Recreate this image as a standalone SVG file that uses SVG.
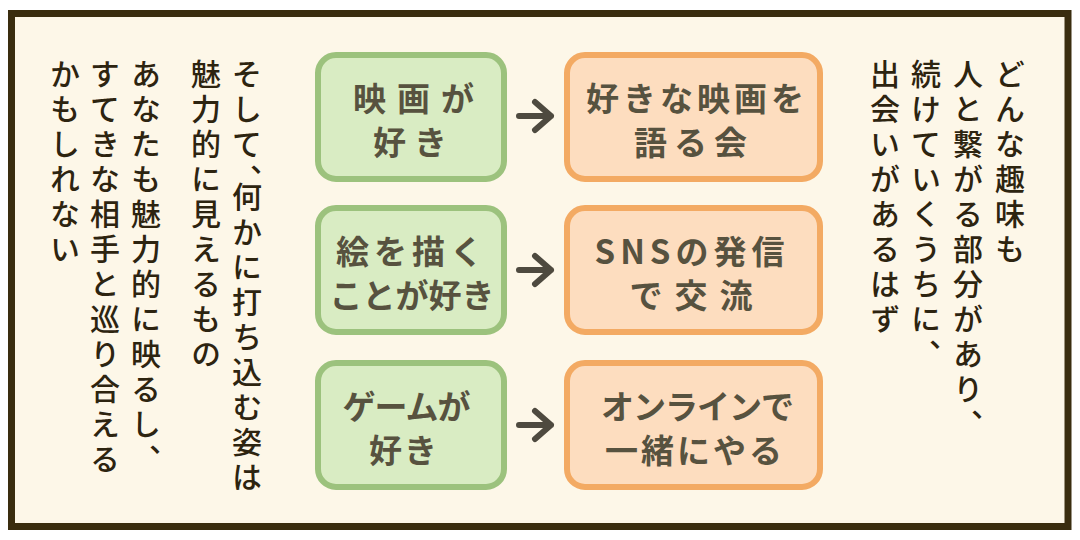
<svg xmlns="http://www.w3.org/2000/svg" width="1080" height="540" viewBox="0 0 1080 540">
<style>
.vt{font-family:"Noto Sans CJK JP","Noto Sans CJK SC",sans-serif;font-size:30px;font-weight:500;fill:#2d2410;writing-mode:vertical-rl;letter-spacing:5px}
.bt{font-family:"Noto Sans CJK JP","Noto Sans CJK SC",sans-serif;font-size:33px;font-weight:700;fill:#57523f;text-anchor:middle;dominant-baseline:central}
.g{fill:#d9ecc3;stroke:#9cc27d;stroke-width:6}
.o{fill:#fdddbf;stroke:#f3aa63;stroke-width:6}
.arr{fill:none;stroke:#4e4a3f;stroke-width:6;stroke-linecap:round;stroke-linejoin:round}
</style>
<rect x="0" y="0" width="1080" height="540" fill="#ffffff"/>
<rect x="11.5" y="13.5" width="1056.5" height="513" fill="#fdf7e8" stroke="#3a2d0f" stroke-width="7"/>

<g id="text-left">
<text class="vt" x="247" y="59">そして、<tspan dy="-17">何かに打ち込む姿は</tspan></text>
<text class="vt" x="206" y="59">魅力的に見えるもの</text>
<text class="vt" x="146" y="59">あなたも魅力的に映るし、</text>
<text class="vt" x="105" y="59">すてきな相手と巡り合える</text>
<text class="vt" x="65" y="59">かもしれない</text>
</g>

<g id="text-right">
<text class="vt" x="1010" y="59">どんな趣味も</text>
<text class="vt" x="968" y="59">人と繋がる部分があり、</text>
<text class="vt" x="926" y="59">続けていくうちに、</text>
<text class="vt" x="885" y="59">出会いがあるはず</text>
</g>

<g id="node-movie">
<rect class="g" x="318" y="55" width="186" height="124" rx="18"/>
<text class="bt" x="419" y="97" font-size="36" letter-spacing="11">映画が</text>
<text class="bt" x="414" y="141" font-size="35" letter-spacing="8">好き</text>
</g>
<g id="node-movie-talk">
<rect class="o" x="567" y="55" width="253" height="124" rx="18"/>
<text class="bt" x="697" y="97" letter-spacing="4">好きな映画を</text>
<text class="bt" x="694" y="141" letter-spacing="7">語る会</text>
</g>
<g id="node-draw">
<rect class="g" x="318" y="208" width="186" height="124" rx="18"/>
<text class="bt" x="412" y="250" letter-spacing="5">絵を描く</text>
<text class="bt" x="412" y="294">ことが好き</text>
</g>
<g id="node-sns">
<rect class="o" x="567" y="208" width="253" height="124" rx="18"/>
<text class="bt" x="692" y="250" letter-spacing="5">SNSの発信</text>
<text class="bt" x="697" y="294" letter-spacing="12">で交流</text>
</g>
<g id="node-game">
<rect class="g" x="318" y="363" width="186" height="124" rx="18"/>
<text class="bt" x="406" y="405" letter-spacing="-1">ゲームが</text>
<text class="bt" x="404" y="449" letter-spacing="2">好き</text>
</g>
<g id="node-online">
<rect class="o" x="567" y="363" width="253" height="124" rx="18"/>
<text class="bt" x="697" y="405" letter-spacing="-1">オンラインで</text>
<text class="bt" x="695" y="449" letter-spacing="3">一緒にやる</text>
</g>

<g id="connectors">
<path class="arr" d="M519 116 H551 M535 102 L551 116 L535 130"/>
<path class="arr" d="M519 270 H551 M535 256 L551 270 L535 284"/>
<path class="arr" d="M519 425 H551 M535 411 L551 425 L535 439"/>
</g>
</svg>
